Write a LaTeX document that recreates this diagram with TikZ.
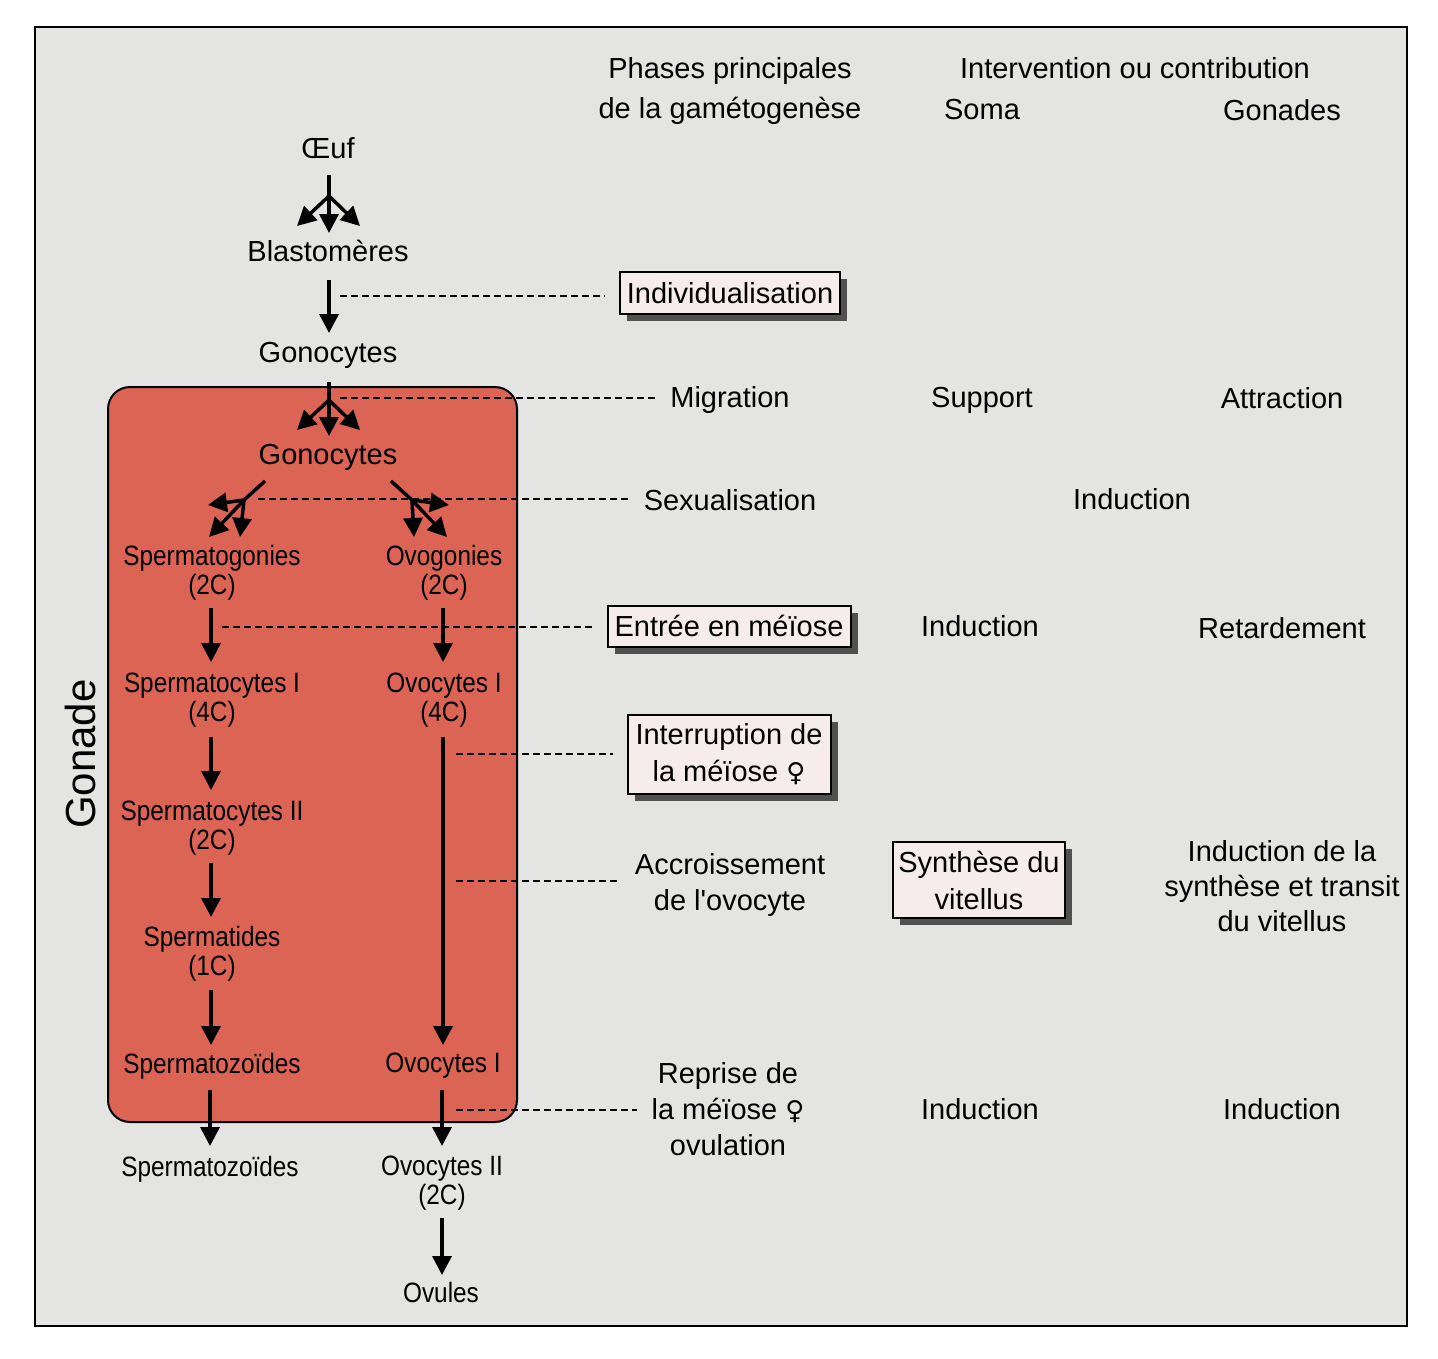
\documentclass[tikz,border=0pt]{standalone}
\usepackage{fontspec}
\setmainfont{Liberation Sans}
\newfontfamily\narrowf[FakeStretch=0.87]{Liberation Sans}
\newfontfamily\plainf{Liberation Sans}
\newfontfamily\symf{DejaVu Sans}
\usetikzlibrary{arrows.meta,shadows}
\definecolor{bgray}{RGB}{228,228,226}
\definecolor{gred}{RGB}{220,100,84}
\definecolor{boxpink}{RGB}{247,236,236}
\definecolor{shadowc}{RGB}{80,80,80}
\newcommand{\femsign}{{\symf\fontsize{26}{26}\selectfont ♀}}
\tikzset{
  lbl/.style={font=\fontsize{29}{36}\selectfont, inner sep=0pt, align=center},
  hdr/.style={font=\fontsize{29}{40}\selectfont, inner sep=0pt, align=center},
  nlbl/.style={font=\narrowf\fontsize{28}{29}\selectfont, inner sep=0pt, align=center},
  stem/.style={line width=3.5pt},
  arr/.style={line width=3.5pt, -{Triangle[length=19pt,width=19pt]}},
  dotl/.style={line width=2.4pt, dash pattern=on 6.5pt off 4.5pt, shorten >=14pt},
  pbox/.style={draw=black, line width=2pt, fill=boxpink, inner sep=0pt,
    font=\fontsize{29}{37}\selectfont, align=center,
    drop shadow={shadow xshift=7pt, shadow yshift=-7pt, fill=shadowc, opacity=1}}
}
\begin{document}
\begin{tikzpicture}[x=1pt,y=-1pt]
\useasboundingbox (0,0) rectangle (1438,1358);
\fill[white] (0,0) rectangle (1438,1358);
\draw[line width=2pt, fill=bgray] (35,27) rectangle (1407,1326);
\draw[line width=2pt, fill=gred, rounded corners=22pt] (108,387) rectangle (517,1122);

% headers
\node[hdr] (h1) at (730,91) {Phases principales\\de la gamétogenèse};
\node[lbl] (h2) at (1135,68) {Intervention ou contribution};
\node[lbl] (soma) at (982,110) {Soma};
\node[lbl] (gonades) at (1282,110) {Gonades};

% left column
\node[lbl] (oeuf) at (328,148) {Œuf};
\node[lbl] (blast) at (328,251) {Blastomères};
\node[lbl] (gono1) at (328,355) {Gonocytes};
\node[lbl] (gono2) at (328,457) {Gonocytes};
\node[nlbl] (spg) at (212,573) {Spermatogonies\\(2C)};
\node[nlbl] (ovg) at (444,573) {Ovogonies\\(2C)};
\node[nlbl] (spc1) at (212,700) {Spermatocytes I\\(4C)};
\node[nlbl] (ovc1) at (444,700) {Ovocytes I\\(4C)};
\node[nlbl] (spc2) at (212,828) {Spermatocytes II\\(2C)};
\node[nlbl] (sptd) at (212,954) {Spermatides\\(1C)};
\node[nlbl] (spz1) at (212,1066) {Spermatozoïdes};
\node[nlbl] (ovc1b) at (443,1066) {Ovocytes I};
\node[nlbl] (spz2) at (210,1169) {Spermatozoïdes};
\node[nlbl] (ovc2) at (442,1183) {Ovocytes II\\(2C)};
\node[nlbl] (ovules) at (441,1292) {Ovules};
\node[font=\fontsize{42}{42}\selectfont, inner sep=0pt, rotate=90] (gonade) at (80,754) {Gonade};

% phases
\node[pbox, minimum width=220pt, minimum height=42pt] (indiv) at (730,293) {Individualisation};
\node[lbl] (migr) at (730,400) {Migration};
\node[lbl] (sexu) at (730,500) {Sexualisation};
\node[pbox, minimum width=243pt, minimum height=41pt] (entree) at (729,626) {Entrée en méïose};
\node[pbox, minimum width=203pt, minimum height=79pt] (interr) at (729,754) {Interruption de\\la méïose \femsign};
\node[lbl] (accr) at (730,885) {Accroissement\\de l{\plainf '}ovocyte};
\node[lbl] (reprise) at (728,1109) {Reprise de\\la méïose \femsign\\ovulation};

% soma
\node[lbl] (supp) at (982,400) {Support};
\node[lbl] (ind2) at (980,626) {Induction};
\node[pbox, minimum width=172pt, minimum height=76pt] (synth) at (979,880) {Synthèse du\\vitellus};
\node[lbl] (ind3) at (980,1109) {Induction};

% gonades
\node[lbl] (attr) at (1282,398) {Attraction};
\node[lbl] (ind1) at (1132,499) {Induction};
\node[lbl] (retard) at (1282,628) {Retardement};
\node[lbl, font=\fontsize{29}{35}\selectfont] (indsyn) at (1282,886) {Induction de la\\synthèse et transit\\du vitellus};
\node[lbl] (ind4) at (1282,1109) {Induction};

% triple arrow 1
\coordinate (t1) at (329,196);
\draw[stem] (oeuf.south -| t1) ++(0,16) -- (t1);
\draw[arr] (t1) -- (297,226);
\draw[arr] (t1) -- (329,233);
\draw[arr] (t1) -- (360,226);
% blast -> gono1
\draw[arr] (blast.south -| t1) ++(0,18) -- (329,333);
% triple arrow 2
\coordinate (t2) at (329,400);
\draw[stem] (gono1.south -| t2) ++(0,14) -- (t2);
\draw[arr] (t2) -- (297,430);
\draw[arr] (t2) -- (329,436);
\draw[arr] (t2) -- (360,430);
% sexualisation split left
\coordinate (tl) at (244,500);
\draw[stem] (265,481) -- (tl);
\draw[arr] (tl) -- (208,505);
\draw[arr] (tl) -- (209,537);
\draw[arr] (tl) -- (240,537);
% sexualisation split right
\coordinate (tr) at (412,500);
\draw[stem] (391,481) -- (tr);
\draw[arr] (tr) -- (449,505);
\draw[arr] (tr) -- (447,537);
\draw[arr] (tr) -- (414,537);

% vertical arrows
\draw[arr] (211,608) -- (211,662);
\draw[arr] (443,608) -- (443,662);
\draw[arr] (211,737) -- (211,790);
\draw[arr] (211,863) -- (211,917);
\draw[arr] (211,990) -- (211,1045);
\draw[arr] (443,737) -- (443,1045);
\draw[arr] (210,1090) -- (210,1146);
\draw[arr] (442,1090) -- (442,1146);
\draw[arr] (442,1218) -- (442,1275);

% dashed links
\draw[dotl] (340,296) -- (indiv.west |- 0,296);
\draw[dotl] (340,398) -- (migr.west |- 0,398);
\draw[dotl] (258,499) -- (sexu.west |- 0,499);
\draw[dotl] (222,627) -- (entree.west |- 0,627);
\draw[dotl] (456,754) -- (interr.west |- 0,754);
\draw[dotl] (456,881) -- (accr.west |- 0,881);
\draw[dotl] (456,1110) -- (reprise.west |- 0,1110);
\end{tikzpicture}
\end{document}
